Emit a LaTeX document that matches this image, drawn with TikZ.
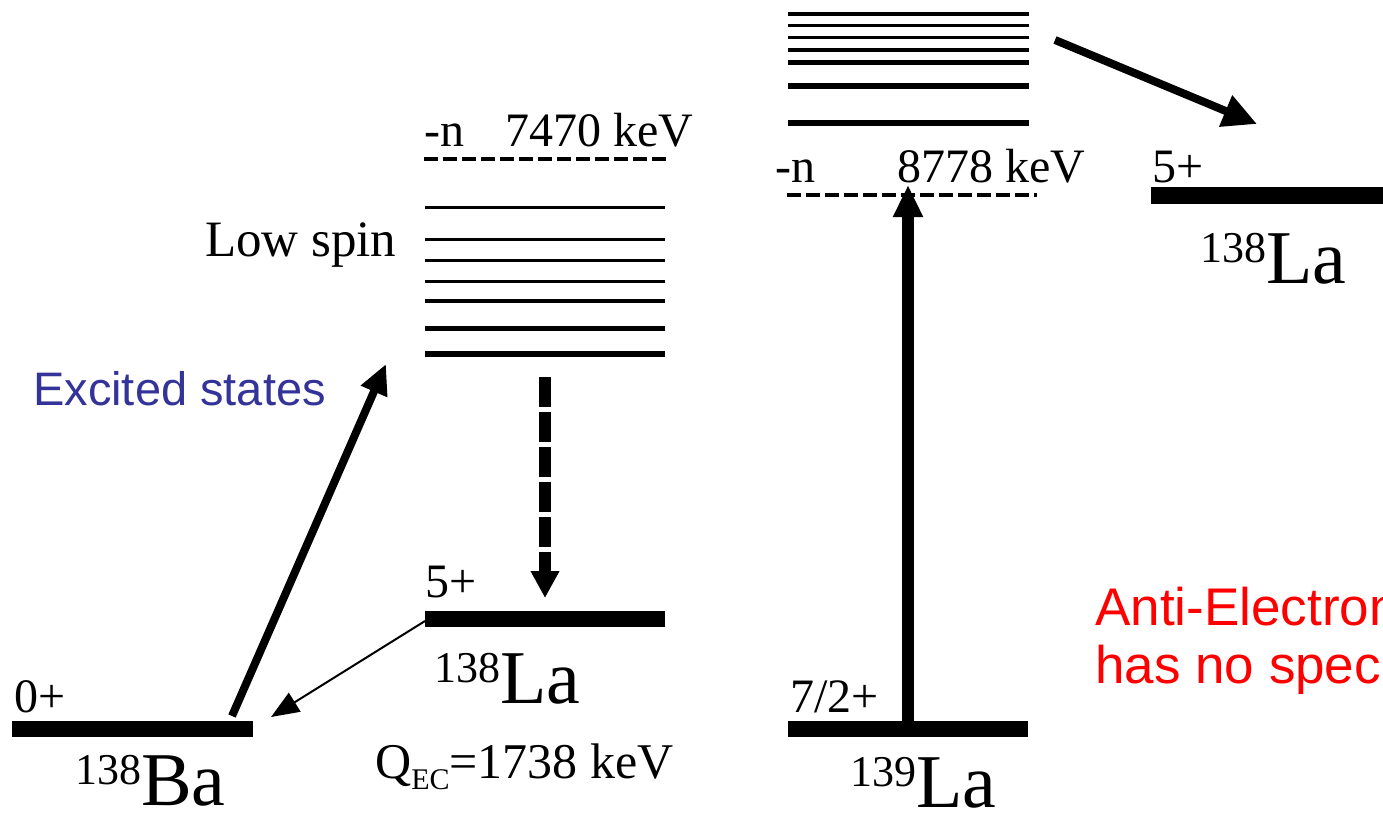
\documentclass[tikz,border=0pt]{standalone}
\usepackage{fontspec}
\setmainfont{Liberation Serif}
\newfontfamily\arialf{Liberation Sans}
\usetikzlibrary{arrows.meta}
\definecolor{exblue}{RGB}{51,51,153}
\definecolor{antired}{RGB}{255,0,0}
\begin{document}
\begin{tikzpicture}[x=1pt,y=-1pt,
  groundbar/.style={line width=16pt},
  dashlvl/.style={line width=3.5pt, dash pattern=on 14pt off 5pt},
  lbl/.style={inner sep=0pt, anchor=base west, font=\fontsize{48}{50}\selectfont},
  iso/.style={inner sep=0pt, anchor=base west, font=\fontsize{76}{76}\selectfont},
  sanslbl/.style={inner sep=0pt, anchor=base west, font=\arialf\fontsize{#1}{#1}\selectfont},
  bigarrow/.style={line width=#1, -{Triangle[length=30pt,width=27pt]}},
]
\clip (0,0) rectangle (1383,815);
\fill[white] (0,0) rectangle (1383,815);

% ground levels
\draw[groundbar] (12,729) -- (253,729);
\draw[groundbar] (425,619) -- (665,619);
\draw[groundbar] (788,729) -- (1028,729);
\draw[line width=17pt] (1151,195.5) -- (1400,195.5);

% excited levels (middle)
\foreach \yy/\ww in {207.7/3.3, 239.3/3.3, 260/3, 281/3, 301/4.7, 328.7/5.3, 354/6}
  \draw[line width=\ww pt] (425,\yy) -- (665,\yy);
\draw[dashlvl] (424,159) -- (667,159);

% excited levels (right)
\foreach \yy/\ww in {14/3.3, 25.7/2.7, 37.7/3.3, 50/3.3, 62.3/5.3, 86.3/6, 123/6.7}
  \draw[line width=\ww pt] (788,\yy) -- (1029,\yy);
\draw[dashlvl] (787,195) -- (1037,195);

% labels
\node[lbl] (spin0) at (14,712) {0+};
\node[lbl] (spin5m) at (425,597) {5+};
\node[lbl] (spin72) at (790,712) {7/2+};
\node[lbl] (spin5r) at (1152,182) {5+};
\node[lbl] (nm) at (424,146) {-n};
\node[lbl] (e7470) at (505,146) {7470 keV};
\node[lbl] (nr) at (775,182) {-n};
\node[lbl] (e8778) at (897,182) {8778 keV};
\node[lbl, font=\fontsize{51}{51}\selectfont] (lowspin) at (205,256) {Low spin};
\node[lbl, font=\fontsize{50}{50}\selectfont] (qec) at (375,778)
  {Q\raisebox{-11pt}{\fontsize{30}{30}\selectfont EC}=1738 keV};

\node[iso] (ba138) at (75,805) {\raisebox{21pt}{\fontsize{44}{44}\selectfont 138}Ba};
\node[iso] (la138m) at (434,703) {\raisebox{21pt}{\fontsize{44}{44}\selectfont 138}La};
\node[iso] (la139) at (850,807) {\raisebox{21pt}{\fontsize{44}{44}\selectfont 139}La};
\node[iso] (la138r) at (1200,283) {\raisebox{21pt}{\fontsize{44}{44}\selectfont 138}La};

\node[sanslbl=47, text=exblue] (excited) at (33,405) {Excited states};
\node[sanslbl=53, text=antired] (anti1) at (1095,625) {Anti-Electron};
\node[sanslbl=53, text=antired] (anti2) at (1095,683) {has no spec};

% arrow end points
\coordinate (baS) at (232,716);
\coordinate (exT) at (386,364);
\coordinate (laS) at (425,621);
\coordinate (baT) at (271,717);
\coordinate (dS) at (545,377);
\coordinate (dT) at (545,598);
\coordinate (l9S) at (908,721);
\coordinate (l9T) at (908,185);
\coordinate (rS) at (1055,40);
\coordinate (rT) at (1257,124);

% arrows
\draw[bigarrow=8pt] (baS) -- (exT);
\draw[line width=2pt, -{Triangle[length=28pt,width=22pt]}] (laS) -- (baT);
\draw[line width=12pt, dash pattern=on 30pt off 5pt, -{Triangle[length=27pt,width=27pt]}] (dS) -- (dT);
\draw[line width=12pt, -{Triangle[length=32pt,width=28pt]}] (l9S) -- (l9T);
\draw[line width=8pt, -{Triangle[length=34pt,width=32pt]}] (rS) -- (rT);
\end{tikzpicture}
\end{document}
